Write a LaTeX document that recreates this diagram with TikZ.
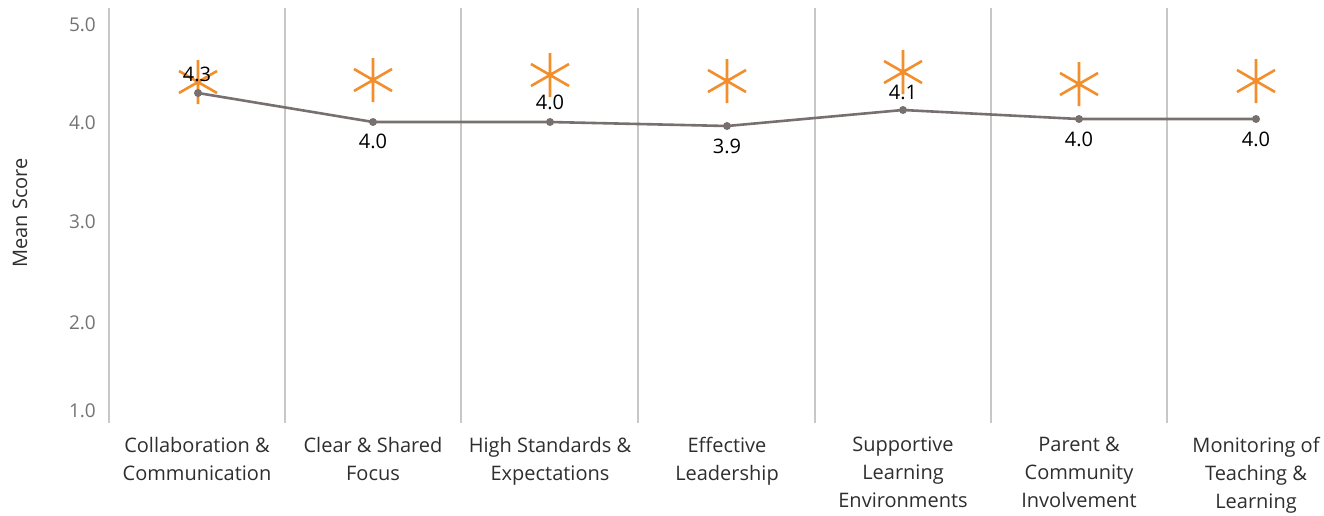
\documentclass[tikz,border=0pt]{standalone}
\usepackage{fontspec}
\setmainfont{Open Sans}
\usetikzlibrary{calc}
\begin{document}
\begin{tikzpicture}[x=1pt,y=-1pt,
  grid/.style={draw=black!22,line width=1.2pt},
  ticklab/.style={text=black!55,font=\fontsize{19}{19}\selectfont,anchor=east,inner sep=0pt},
  catlab/.style={align=center,font=\fontsize{20}{28}\selectfont,text=black!82,anchor=north,inner sep=0pt},
  vallab/.style={font=\fontsize{20}{20}\selectfont,text=black,inner sep=0pt},
  dot/.style={circle,fill=meanline,inner sep=0pt,minimum size=8pt},
  star/.style={draw=starorange,line width=2.6pt}]
\definecolor{meanline}{HTML}{77706E}
\definecolor{starorange}{HTML}{F28E2B}
\useasboundingbox (0,0) rectangle (1324,515);
% separators
\foreach \x in {109,285,461,638,815,991,1167} \draw[grid] (\x,8) -- (\x,423);
% y ticks
\node[ticklab] (t5) at (96,25) {5.0};
\node[ticklab] (t4) at (96,123) {4.0};
\node[ticklab] (t3) at (96,222) {3.0};
\node[ticklab] (t2) at (96,323) {2.0};
\node[ticklab] (t1) at (96,411) {1.0};
\node[rotate=90,font=\fontsize{20}{20}\selectfont,text=black!82,inner sep=0pt] (yl) at (20,213) {Mean Score};
% asterisks
\foreach \x/\y [count=\i] in {198/82,373/80,550/75,727/81,903/72,1079/84,1256/81}{
  \coordinate (s\i) at (\x,\y);
  \draw[star] ($(s\i)+(0,-22)$) -- ($(s\i)+(0,22)$)
              ($(s\i)+(-19,-11)$) -- ($(s\i)+(19,11)$)
              ($(s\i)+(-19,11)$) -- ($(s\i)+(19,-11)$);
}
% mean line
\node[dot] (p1) at (198,93) {};
\node[dot] (p2) at (373,122) {};
\node[dot] (p3) at (550,122) {};
\node[dot] (p4) at (727,126) {};
\node[dot] (p5) at (903,110) {};
\node[dot] (p6) at (1079,119) {};
\node[dot] (p7) at (1256,119) {};
\draw[meanline,line width=2.6pt] (p1.center) -- (p2.center) -- (p3.center) -- (p4.center) -- (p5.center) -- (p6.center) -- (p7.center);
% value labels
\node[vallab] (v1) at (197,74) {4.3};
\node[vallab] (v2) at (373,141) {4.0};
\node[vallab] (v3) at (550,102) {4.0};
\node[vallab] (v4) at (727,146) {3.9};
\node[vallab] (v5) at (903,92) {4.1};
\node[vallab] (v6) at (1079,139) {4.0};
\node[vallab] (v7) at (1256,139) {4.0};
% category labels
\node[catlab] (c1) at (197,437) {Collaboration \&\\Communication};
\node[catlab] (c2) at (373,437) {Clear \& Shared\\Focus};
\node[catlab] (c3) at (550,437) {High Standards \&\\Expectations};
\node[catlab] (c4) at (727,437) {Effective\\Leadership};
\node[catlab] (c5) at (903,437) {Supportive\\Learning\\Environments};
\node[catlab] (c6) at (1079,437) {Parent \&\\Community\\Involvement};
\node[catlab] (c7) at (1256,437) {Monitoring of\\Teaching \&\\Learning};
\end{tikzpicture}
\end{document}
